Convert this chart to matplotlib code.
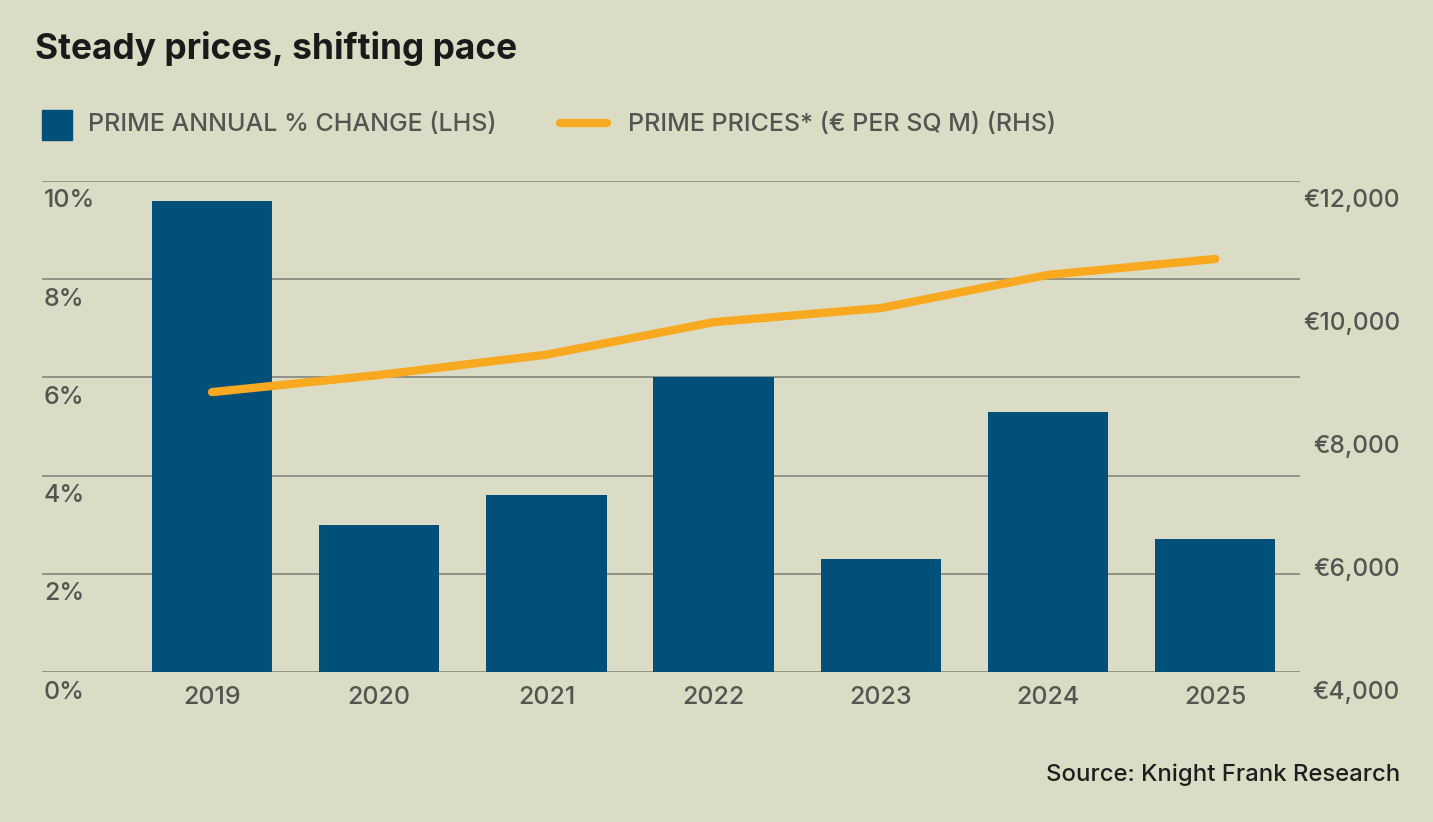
import matplotlib
import matplotlib.pyplot as plt
from matplotlib.lines import Line2D
from matplotlib.patches import Rectangle
from matplotlib.transforms import offset_copy

matplotlib.use("Agg")

# Data
years = ["2019", "2020", "2021", "2022", "2023", "2024", "2025"]
annual_change = [9.6, 3.0, 3.6, 6.0, 2.3, 5.3, 2.7]           # % (LHS)
prime_prices = [8560, 8840, 9170, 9700, 9930, 10470, 10730]   # EUR per sq m (RHS)

pct_ticks = [0, 2, 4, 6, 8, 10]
eur_ticks = [4000, 6000, 8000, 10000, 12000]

BG = "#dbdcc6"
BLUE = "#00507a"
ORANGE = "#f8a920"
GREY_TEXT = "#545551"
GRID = "#8b8c83"
W, H = 1433, 822

plt.rcParams["font.family"] = ["Inter", "DejaVu Sans"]
plt.rcParams["font.weight"] = 500

fig = plt.figure(figsize=(W / 100, H / 100), dpi=100, facecolor=BG)

# Axes placed in pixel terms: gridlines from x=42 to 1300, y=181 to 672
ax = fig.add_axes([42 / W, (H - 672) / H, (1300 - 42) / W, (672 - 181) / H])
ax.set_facecolor(BG)
x = list(range(len(years)))
ax.bar(x, annual_change, width=0.72, color=BLUE, zorder=2)
ax.set_xlim(-1.017, 6.507)
ax.set_ylim(0, 10)
ax.set_yticks(pct_ticks)
ax.yaxis.grid(True, color=GRID, linewidth=1.3, zorder=0)
ax.tick_params(axis="y", length=0, labelleft=False)
ax.set_xticks(x)
ax.set_xticklabels(years, fontsize=18, color=GREY_TEXT, fontweight=500)
ax.tick_params(axis="x", length=0, pad=10)
for spine in ax.spines.values():
    spine.set_visible(False)

# Left labels sit just under each gridline, inside the plot area
left_tf = offset_copy(ax.get_yaxis_transform(), fig=fig, x=2, y=-20, units="dots")
for t in pct_ticks:
    ax.text(0, t, f"{t}%", transform=left_tf, ha="left", va="center",
            fontsize=18, color=GREY_TEXT, fontweight=500)

ax2 = ax.twinx()
ax2.set_ylim(4000, 12000)
ax2.set_yticks([])
for spine in ax2.spines.values():
    spine.set_visible(False)
ax2.plot(x, prime_prices, color=ORANGE, linewidth=6, solid_capstyle="round", zorder=3)

right_tf = offset_copy(ax2.get_yaxis_transform(), fig=fig, x=100, y=-20, units="dots")
for t in eur_ticks:
    ax2.text(1, t, f"€{t:,}", transform=right_tf, ha="right", va="center",
             fontsize=17.6, color=GREY_TEXT, fontweight=500)

# Title
fig.text(35 / W, 1 - 48 / H, "Steady prices, shifting pace", fontsize=25.4,
         fontweight="bold", color="#1a1a1a", ha="left", va="center")

# Legend drawn by hand to match the reference layout
fig.patches.append(Rectangle((42 / W, 1 - 140 / H), 30 / W, 30 / H,
                             transform=fig.transFigure, color=BLUE))
fig.text(88 / W, 1 - 125 / H, "PRIME ANNUAL % CHANGE (LHS)", fontsize=18,
         color=GREY_TEXT, ha="left", va="center", fontweight=500)
fig.lines.append(Line2D([560 / W, 607 / W], [1 - 123 / H, 1 - 123 / H],
                        transform=fig.transFigure, color=ORANGE, linewidth=6,
                        solid_capstyle="round"))
fig.text(628 / W, 1 - 125 / H, "PRIME PRICES* (€ PER SQ M) (RHS)", fontsize=18,
         color=GREY_TEXT, ha="left", va="center", fontweight=500)

# Source
fig.text(1400 / W, 1 - 775 / H, "Source: Knight Frank Research", fontsize=17.2,
         color="#1e1e1e", ha="right", va="center", fontweight=500)

fig.savefig("out.png", dpi=100, facecolor=BG)
